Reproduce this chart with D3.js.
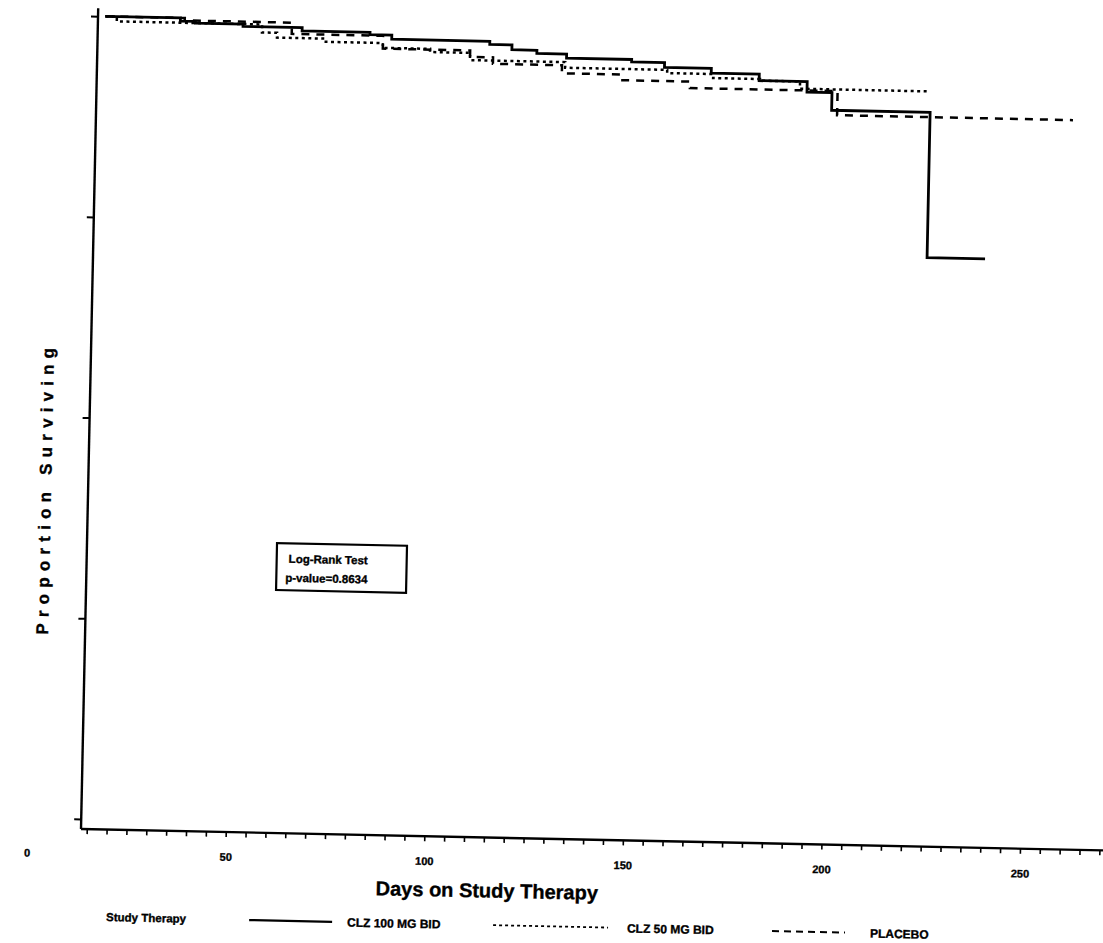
<!DOCTYPE html>
<html>
<head>
<meta charset="utf-8">
<script src="https://cdn.jsdelivr.net/npm/d3@7"></script>
<style>
  html, body { margin: 0; padding: 0; background: #ffffff; }
  svg { display: block; }
  text { font-family: "Liberation Sans", Arial, sans-serif; font-weight: bold; fill: #000; stroke: #000; stroke-width: 0.35px; }
</style>
</head>
<body>
<svg id="chart" width="1103" height="943"></svg>
<script>
// ---- Data ----
const seriesNames = ["CLZ 100 MG BID", "CLZ 50 MG BID", "PLACEBO"];

const days100 = [15.4, 34.3, 38.1, 50.1, 65.0, 82.1, 87.6, 112.3, 117.9, 124.2, 131.7, 148.1, 156.4, 168.2, 180.3, 192.4, 198.7, 223.5, 238.1];
const surv100 = [1.000, 0.996, 0.994, 0.991, 0.987, 0.984, 0.979, 0.975, 0.969, 0.965, 0.960, 0.957, 0.951, 0.945, 0.937, 0.924, 0.902, 0.721, 0.721];

const days50 = [15.4, 18.3, 54.9, 58.7, 70.3, 85.4, 97.3, 107.4, 131.4, 157.1, 168.7, 180.5, 190.6, 222.6];
const surv50 = [1.000, 0.994, 0.984, 0.978, 0.974, 0.968, 0.964, 0.955, 0.948, 0.944, 0.939, 0.937, 0.928, 0.928];

const daysPbo = [15.4, 35.4, 62.4, 85.4, 107.4, 113.2, 130.6, 145.3, 162.9, 200.1, 259.5];
const survPbo = [1.000, 0.997, 0.983, 0.967, 0.959, 0.951, 0.941, 0.934, 0.926, 0.896, 0.896];

const xTickLabels = [0, 50, 100, 150, 200, 250];
const yTickValues = [0, 0.25, 0.5, 0.75, 1];
const xAxisTitle = "Days on Study Therapy";
const yAxisTitle = "Proportion Surviving";
const legendTitle = "Study Therapy";
const testLines = ["Log-Rank Test", "p-value=0.8634"];

// ---- Layout ----
const svg = d3.select("#chart");
const originX = 81, originY = 829;   // axes corner
const g = svg.append("g").attr("transform", `rotate(1.2 ${originX} ${originY})`);

const x = d3.scaleLinear().domain([13.55, 273]).range([81, 81 + 3.972 * (273 - 13.55)]);
const y = d3.scaleLinear().domain([0, 1]).range([819, 16]);

// Axis lines
g.append("line").attr("x1", originX).attr("y1", originY).attr("x2", originX).attr("y2", 8)
  .attr("stroke", "#000").attr("stroke-width", 2.4);
g.append("line").attr("x1", originX).attr("y1", originY).attr("x2", 1125).attr("y2", originY)
  .attr("stroke", "#000").attr("stroke-width", 2.4);

// Y ticks (no labels)
const yAx = g.append("g").attr("transform", `translate(${originX},0)`)
  .call(d3.axisLeft(y).tickValues(yTickValues).tickFormat("").tickSize(7));
yAx.select(".domain").remove();
yAx.selectAll("line").attr("stroke", "#000").attr("stroke-width", 2);

// X minor ticks
const minor = d3.range(15, 275, 5);
const xAx = g.append("g").attr("transform", `translate(0,${originY})`)
  .call(d3.axisBottom(x).tickValues(minor).tickFormat("").tickSize(5));
xAx.select(".domain").remove();
xAx.selectAll("line").attr("stroke", "#000").attr("stroke-width", 1.6);

// X tick labels
const xLab = g.append("g").attr("transform", `translate(0,${originY})`)
  .call(d3.axisBottom(x).tickValues(xTickLabels).tickFormat(d3.format("d")).tickSize(0).tickPadding(21));
xLab.select(".domain").remove();
xLab.selectAll("text").style("font-size", "11px").style("font-family", '"Liberation Sans", Arial, sans-serif')
  .style("font-weight", "bold").attr("stroke", "#000").attr("stroke-width", 0.4);

// Axis titles
g.append("text").attr("x", 488).attr("y", 889).attr("text-anchor", "middle")
  .style("font-size", "20px").text(xAxisTitle);
g.append("text").attr("transform", "translate(44,489) rotate(-90)").attr("text-anchor", "middle")
  .style("font-size", "17px").style("letter-spacing", "6.2px").text(yAxisTitle);

// Curves
const line = d3.line().x(d => x(d[0])).y(d => y(d[1])).curve(d3.curveStepAfter);
const styles = [
  { dash: null, w: 2.8 },
  { dash: "3,3.5", w: 2.5 },
  { dash: "8,7", w: 2.5 }
];
const series = [d3.zip(days100, surv100), d3.zip(days50, surv50), d3.zip(daysPbo, survPbo)];
series.forEach((s, i) => {
  g.append("path").datum(s).attr("d", line).attr("fill", "none")
    .attr("stroke", "#000").attr("stroke-width", styles[i].w)
    .attr("stroke-dasharray", styles[i].dash);
});

// Log-rank box
g.append("rect").attr("x", 271).attr("y", 539).attr("width", 130).attr("height", 47)
  .attr("fill", "#fff").attr("stroke", "#000").attr("stroke-width", 2.2);
g.append("text").attr("x", 283).attr("y", 558.5).style("font-size", "11.5px").text(testLines[0]);
g.append("text").attr("x", 280).attr("y", 577.5).style("font-size", "11.5px").text(testLines[1]);

// Legend
const legY = 916.5;
g.append("text").attr("x", 108).attr("y", legY + 4).style("font-size", "11.5px").text(legendTitle);
const legItems = [
  { x1: 251, x2: 334, tx: 349, dash: null, w: 2.2 },
  { x1: 495, x2: 610, tx: 629, dash: "3,3", w: 1.8 },
  { x1: 774, x2: 847, tx: 872, dash: "7,5", w: 2 }
];
legItems.forEach((it, i) => {
  g.append("line").attr("x1", it.x1).attr("x2", it.x2).attr("y1", legY).attr("y2", legY)
    .attr("stroke", "#000").attr("stroke-width", it.w).attr("stroke-dasharray", it.dash);
  g.append("text").attr("x", it.tx).attr("y", legY + 4.5).style("font-size", "12px").text(seriesNames[i]);
});
</script>
</body>
</html>
